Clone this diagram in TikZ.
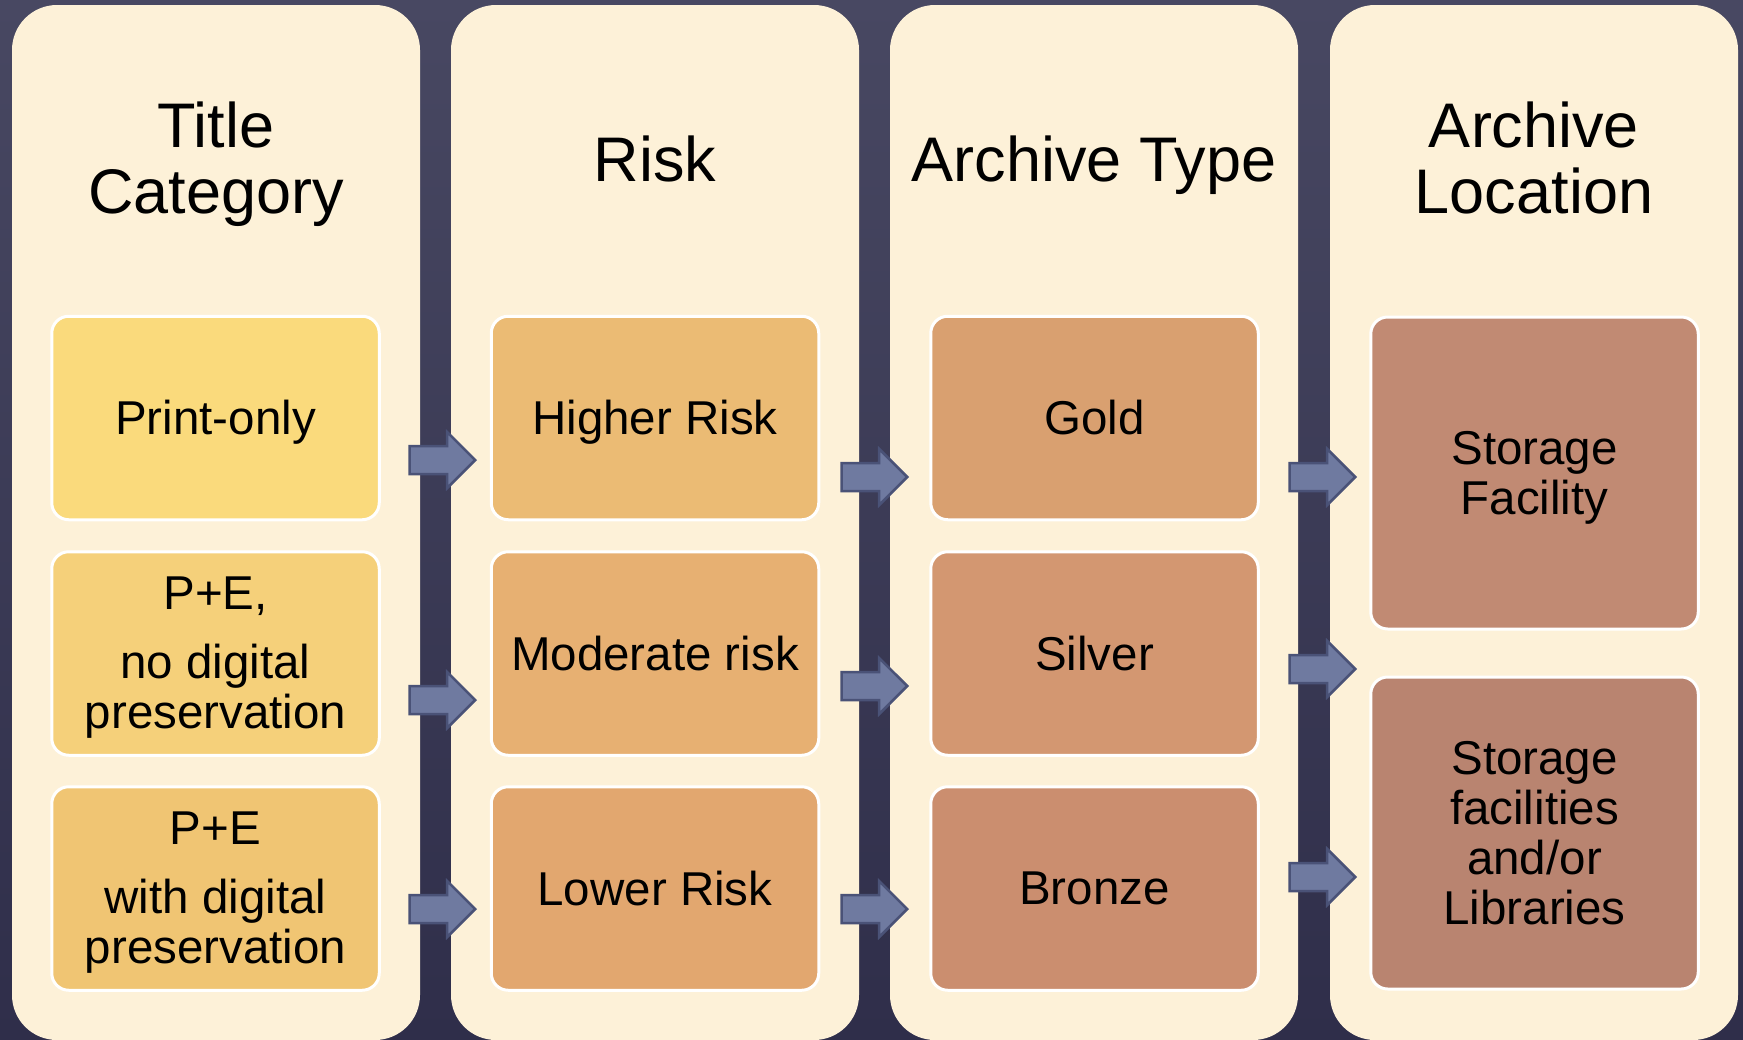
\documentclass[tikz,border=0pt]{standalone}
\usepackage{fontspec}
\setmainfont{Liberation Sans}
\usetikzlibrary{shapes.arrows}

\definecolor{bgtop}{HTML}{484862}
\definecolor{bgbot}{HTML}{2F2E4A}
\definecolor{colbg}{HTML}{FDF1D8}
\definecolor{arrfill}{HTML}{6F7AA0}
\definecolor{arrline}{HTML}{4A5277}
\definecolor{cprint}{HTML}{FADA7C}
\definecolor{cpe}{HTML}{F5D07A}
\definecolor{cpedig}{HTML}{F0C573}
\definecolor{chigh}{HTML}{EBBB74}
\definecolor{cmod}{HTML}{E7B072}
\definecolor{clow}{HTML}{E2A76F}
\definecolor{cgold}{HTML}{D9A070}
\definecolor{csilver}{HTML}{D39771}
\definecolor{cbronze}{HTML}{CB8E6F}
\definecolor{cfac}{HTML}{C18A73}
\definecolor{clib}{HTML}{B98470}

\begin{document}
\begin{tikzpicture}[x=1pt,y=-1pt,
    column/.style={fill=colbg, rounded corners=45pt, minimum width=408pt, minimum height=1035pt, inner sep=0pt},
    header/.style={anchor=base, align=center, font=\fontsize{63}{66}\selectfont},
    item/.style={draw=white, line width=3pt, rounded corners=17pt, minimum width=327.5pt, minimum height=203.5pt,
        text depth=1pt, align=center, font=\fontsize{47.5}{50}\selectfont},
    arr/.style={single arrow, draw=arrline, fill=arrfill, line width=2.5pt, anchor=tip,
        inner xsep=0pt, inner ysep=12.75pt, minimum height=65.5pt, single arrow head extend=14pt, single arrow tip angle=90}]
    \useasboundingbox (0,0) rectangle (1743,1039);
    \shade[top color=bgtop, bottom color=bgbot] (0,0) rectangle (1743,1039);

    % columns
    \node[column] (col1) at (216,522.5) {};
    \node[column] (col2) at (655,522.5) {};
    \node[column] (col3) at (1094,522.5) {};
    \node[column] (col4) at (1534,522.5) {};

    % headers
    \node[header] (head1) at (216,213) {Title\\Category};
    \node[header] (head2) at (655,181) {Risk};
    \node[header] (head3) at (1094,181) {Archive Type};
    \node[header] (head4) at (1534,213) {Archive\\Location};

    % title category
    \node[item, fill=cprint] (print) at (215.5,418) {Print-only};
    \node[item, fill=cpe] (pe) at (215.5,653.5) {P+E,\\[19pt]no digital\\preservation};
    \node[item, fill=cpedig] (pedig) at (215.5,888.5) {P+E\\[19pt]with digital\\preservation};

    % risk
    \node[item, fill=chigh] (high) at (655,418) {Higher Risk};
    \node[item, fill=cmod] (mod) at (655,653.5) {Moderate risk};
    \node[item, fill=clow] (low) at (655,888.5) {Lower Risk};

    % archive type
    \node[item, fill=cgold] (gold) at (1094.5,418) {Gold};
    \node[item, fill=csilver] (silver) at (1094.5,653.5) {Silver};
    \node[item, fill=cbronze] (bronze) at (1094.5,888.5) {Bronze};

    % archive location
    \node[item, fill=cfac, minimum height=312pt] (fac) at (1534.5,473) {Storage\\Facility};
    \node[item, fill=clib, minimum height=312pt] (lib) at (1534.5,833) {Storage\\facilities\\and/or\\Libraries};

    % arrows
    \node[arr] (a1) at (477,460) {};
    \node[arr] (a2) at (477,700) {};
    \node[arr] (a3) at (477,909) {};
    \node[arr] (a4) at (909,477) {};
    \node[arr] (a5) at (909,686) {};
    \node[arr] (a6) at (909,909) {};
    \node[arr] (a7) at (1357,477) {};
    \node[arr] (a8) at (1357,669) {};
    \node[arr] (a9) at (1357,877) {};
\end{tikzpicture}
\end{document}
